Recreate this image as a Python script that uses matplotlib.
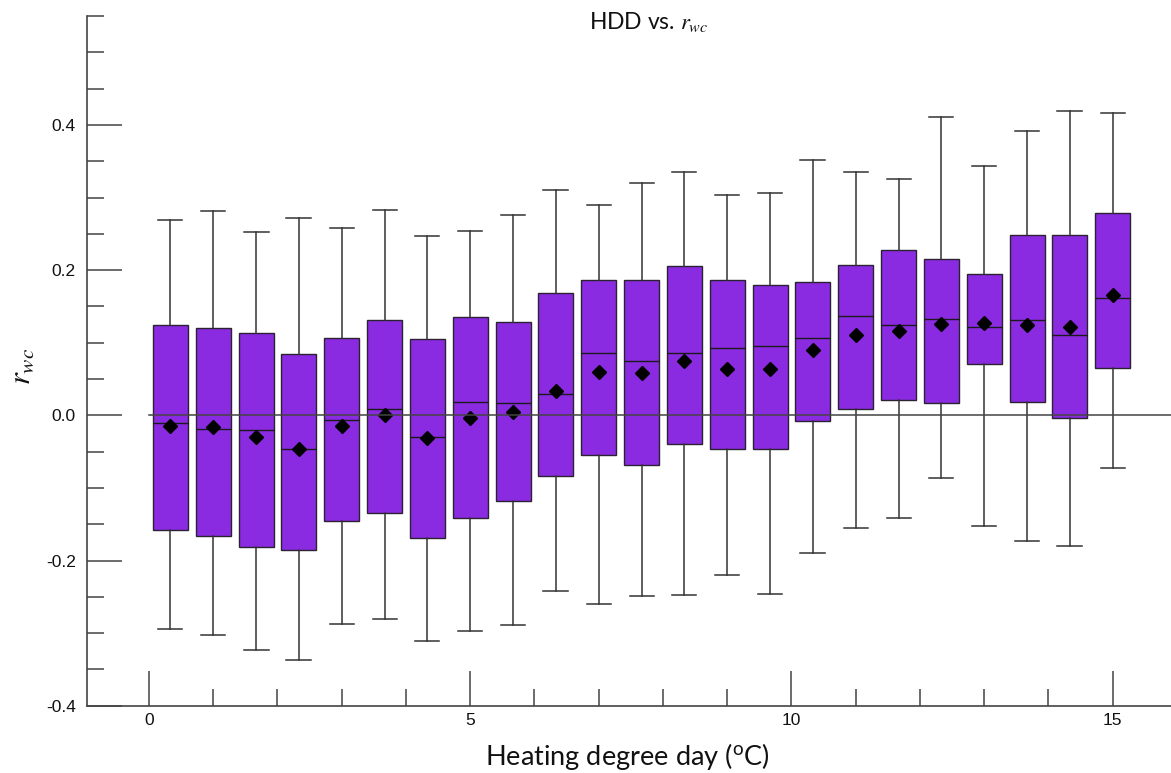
import numpy as np
import matplotlib
matplotlib.use("Agg")
import matplotlib.pyplot as plt
from matplotlib.ticker import MultipleLocator, FormatStrFormatter

plt.rcParams['mathtext.fontset'] = 'stix'
plt.rcParams['axes.unicode_minus'] = False

# HDD bin centres (degC) and summary statistics of r_wc in each bin
hdd = [0.33, 1.0, 1.67, 2.33, 3.0, 3.67, 4.33, 5.0, 5.67, 6.33, 7.0, 7.67,
       8.33, 9.0, 9.67, 10.33, 11.0, 11.67, 12.33, 13.0, 13.67, 14.33, 15.0]
whisk_hi = [0.269, 0.281, 0.252, 0.272, 0.258, 0.283, 0.247, 0.254, 0.276, 0.311, 0.289, 0.320,
            0.335, 0.303, 0.306, 0.351, 0.335, 0.325, 0.411, 0.344, 0.391, 0.419, 0.416]
q3 = [0.125, 0.120, 0.114, 0.084, 0.107, 0.131, 0.105, 0.135, 0.129, 0.168, 0.187, 0.187,
      0.206, 0.186, 0.179, 0.184, 0.207, 0.227, 0.215, 0.195, 0.248, 0.249, 0.279]
median = [-0.011, -0.019, -0.020, -0.046, -0.007, 0.009, -0.030, 0.019, 0.017, 0.029, 0.086, 0.075,
          0.086, 0.093, 0.096, 0.106, 0.137, 0.124, 0.133, 0.121, 0.131, 0.111, 0.162]
mean = [-0.015, -0.016, -0.030, -0.046, -0.015, 0.001, -0.031, -0.004, 0.005, 0.033, 0.060, 0.058,
        0.075, 0.064, 0.064, 0.090, 0.110, 0.116, 0.126, 0.127, 0.124, 0.122, 0.166]
q1 = [-0.158, -0.166, -0.182, -0.186, -0.145, -0.135, -0.169, -0.141, -0.118, -0.083, -0.055, -0.069,
      -0.040, -0.046, -0.046, -0.008, 0.008, 0.021, 0.017, 0.070, 0.018, -0.004, 0.065]
whisk_lo = [-0.295, -0.303, -0.323, -0.337, -0.288, -0.280, -0.311, -0.297, -0.289, -0.242, -0.260, -0.249,
            -0.247, -0.220, -0.246, -0.189, -0.155, -0.142, -0.086, -0.153, -0.173, -0.180, -0.073]

stats = []
for i in range(len(hdd)):
    stats.append(dict(med=median[i], q1=q1[i], q3=q3[i], whislo=whisk_lo[i],
                      whishi=whisk_hi[i], mean=mean[i], fliers=[]))

W, H = 1171, 773
fig = plt.figure(figsize=(W / 100, H / 100), dpi=100)
ax = fig.add_axes([87 / W, 1 - 705.7 / H, 1 - 87 / W, (705.7 - 16) / H])

axis_col = '#444444'
ax.bxp(stats, positions=hdd, widths=0.54, capwidths=0.38, patch_artist=True,
       showmeans=True, manage_ticks=False,
       boxprops=dict(facecolor='#8A2BE2', edgecolor='#2a2230', linewidth=1.0),
       medianprops=dict(color='#1a1a1a', linewidth=1.0),
       whiskerprops=dict(color='#333333', linewidth=1.1),
       capprops=dict(color='#333333', linewidth=1.1),
       meanprops=dict(marker='D', markerfacecolor='black', markeredgecolor='black',
                      markersize=7.5))

# zero reference line across the bins
step = hdd[1] - hdd[0]
ax.plot([hdd[0] - step / 2, 16.5], [0, 0], color=axis_col, linewidth=1.1, zorder=4)

ax.set_xlim(-0.965, 15.907)
ax.set_ylim(-0.4, 0.55)

for s in ['top', 'right']:
    ax.spines[s].set_visible(False)
for s in ['left', 'bottom']:
    ax.spines[s].set_color(axis_col)
    ax.spines[s].set_linewidth(1.2)

ax.xaxis.set_major_locator(MultipleLocator(5))
ax.xaxis.set_minor_locator(MultipleLocator(1))
ax.yaxis.set_major_locator(MultipleLocator(0.2))
ax.yaxis.set_minor_locator(MultipleLocator(0.05))
ax.yaxis.set_major_formatter(FormatStrFormatter('%.1f'))

ax.tick_params(which='major', direction='in', length=25, width=1.1, color=axis_col,
               labelsize=12.5, labelcolor='#111111')
ax.tick_params(which='minor', direction='in', length=12.5, width=1.1, color=axis_col)
ax.tick_params(axis='y', which='major', pad=8)
ax.tick_params(axis='x', which='major', pad=5)
for lab in ax.get_xticklabels() + ax.get_yticklabels():
    lab.set_family('Liberation Sans')

fig.text(649 / W, 1 - 22 / H, r'HDD vs. $r_{wc}$', ha='center', va='center',
         fontsize=16.5, family='Lato', color='#111111')
fig.text(627 / W, 1 - 757 / H, r'Heating degree day ($\mathregular{^o}$C)',
         ha='center', va='center', fontsize=19.5, family='Lato', color='#111111')
fig.text(22 / W, 1 - 366 / H, r'$r_{wc}$', ha='center', va='center', rotation=90,
         fontsize=22, color='#111111')

fig.savefig('out.png', dpi=100)
